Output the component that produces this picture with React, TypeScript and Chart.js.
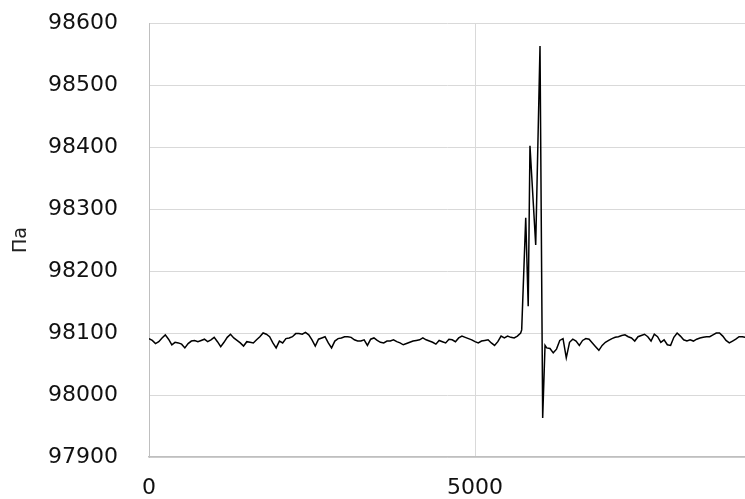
import React, { useEffect, useRef } from 'react';
import { Chart, registerables } from 'chart.js';

Chart.register(...registerables);

// Pressure readings (Па) sampled every 50 units before the disturbance
const preStartX = 0;
const xStep = 50;
const preValues = [
  98091, 98088, 98083, 98086, 98092, 98097, 98090, 98081, 98085, 98084,
  98082, 98076, 98083, 98087, 98088, 98086, 98088, 98090, 98086, 98089,
  98093, 98086, 98078, 98085, 98093, 98098, 98092, 98088, 98084, 98079,
  98086, 98085, 98084, 98089, 98094, 98100, 98098, 98094, 98084, 98076,
  98087, 98084, 98091, 98092, 98094, 98099, 98099, 98098, 98101, 98097,
  98089, 98079, 98090, 98092, 98094, 98084, 98076, 98087, 98091, 98092,
  98094, 98094, 98093, 98089, 98087, 98087, 98089, 98080, 98090, 98092,
  98088, 98085, 98084, 98087, 98087, 98089, 98086, 98084, 98081, 98083,
  98085, 98087, 98088, 98089, 98092, 98089, 98087, 98085, 98082, 98088,
  98086, 98084, 98090, 98089, 98086, 98092, 98095, 98093, 98091, 98089,
  98086, 98084, 98087, 98088, 98089, 98084, 98080, 98086, 98095, 98092,
  98095, 98093, 98092, 98095, 98100,
];

// Disturbance (spike) points
const spikeX = [5716, 5778, 5816, 5843, 5931, 5997, 6038, 6074];
const spikeValues = [98105, 98286, 98143, 98402, 98242, 98563, 97963, 98080];

// Readings after the disturbance, every 50 units
const postStartX = 6100;
const postValues = [
  98076, 98075, 98068, 98074, 98088, 98091, 98060, 98085, 98090, 98087,
  98080, 98088, 98091, 98090, 98084, 98078, 98072, 98080, 98085, 98088,
  98091, 98093, 98094, 98096, 98097, 98094, 98092, 98087, 98094, 98096,
  98098, 98094, 98087, 98098, 98094, 98085, 98089, 98081, 98080, 98093,
  98100, 98095, 98089, 98087, 98089, 98087, 98090, 98092, 98093, 98094,
  98094, 98097, 98100, 98100, 98095, 98088, 98084, 98087, 98090, 98094,
  98094, 98093,
];

const xTicks = [0, 5000];
const yTicks = [97900, 98000, 98100, 98200, 98300, 98400, 98500, 98600];
const xMin = 0;
const xMax = 9141;
const yAxisTitle = 'Па';

export default function App() {
  const canvasRef = useRef<HTMLCanvasElement | null>(null);

  useEffect(() => {
    if (!canvasRef.current) return;
    const points = [
      ...preValues.map((v, i) => ({ x: preStartX + i * xStep, y: v })),
      ...spikeX.map((x, i) => ({ x, y: spikeValues[i] })),
      ...postValues.map((v, i) => ({ x: postStartX + i * xStep, y: v })),
    ];
    const tickFont = { family: 'DejaVu Sans', size: 22 };
    const chart = new Chart(canvasRef.current, {
      type: 'line',
      data: {
        datasets: [
          {
            data: points,
            borderColor: '#000000',
            borderWidth: 1.5,
            pointRadius: 0,
            tension: 0,
            fill: false,
          },
        ],
      },
      options: {
        animation: false,
        responsive: false,
        maintainAspectRatio: false,
        layout: { padding: { top: 23, right: 0, bottom: 0, left: 0 } },
        plugins: {
          legend: { display: false },
          tooltip: { enabled: false },
        },
        scales: {
          x: {
            type: 'linear',
            min: xMin,
            max: xMax,
            afterBuildTicks: (s: any) => {
              s.ticks = xTicks.map((v) => ({ value: v }));
            },
            afterFit: (s: any) => {
              s.height = 42;
              s.paddingLeft = 0;
              s.paddingRight = 0;
            },
            grid: { color: '#d9d9d9', drawTicks: false, lineWidth: 1 },
            border: { color: '#bfbfbf', width: 1.5 },
            ticks: {
              padding: 18,
              font: tickFont,
              color: '#111111',
              maxRotation: 0,
              callback: (v: any) => String(v),
            },
          },
          y: {
            type: 'linear',
            min: yTicks[0],
            max: yTicks[yTicks.length - 1],
            afterBuildTicks: (s: any) => {
              s.ticks = yTicks.map((v) => ({ value: v }));
            },
            afterFit: (s: any) => {
              s.width = 149;
              s.paddingTop = 0;
              s.paddingBottom = 0;
            },
            grid: { color: '#d9d9d9', drawTicks: false, lineWidth: 1 },
            border: { color: '#bfbfbf', width: 1 },
            ticks: {
              padding: 31,
              font: tickFont,
              color: '#111111',
              callback: (v: any) => String(v),
            },
            title: {
              display: true,
              text: yAxisTitle,
              font: { family: 'DejaVu Sans', size: 19 },
              color: '#222222',
              padding: { top: 10, bottom: 0 },
            },
          },
        },
      },
    } as any);
    return () => chart.destroy();
  }, []);

  return (
    <div style={{ position: 'absolute', left: 0, top: 0, width: 745, height: 499, background: '#ffffff' }}>
      <canvas ref={canvasRef} width={745} height={499} style={{ display: 'block' }} />
    </div>
  );
}
